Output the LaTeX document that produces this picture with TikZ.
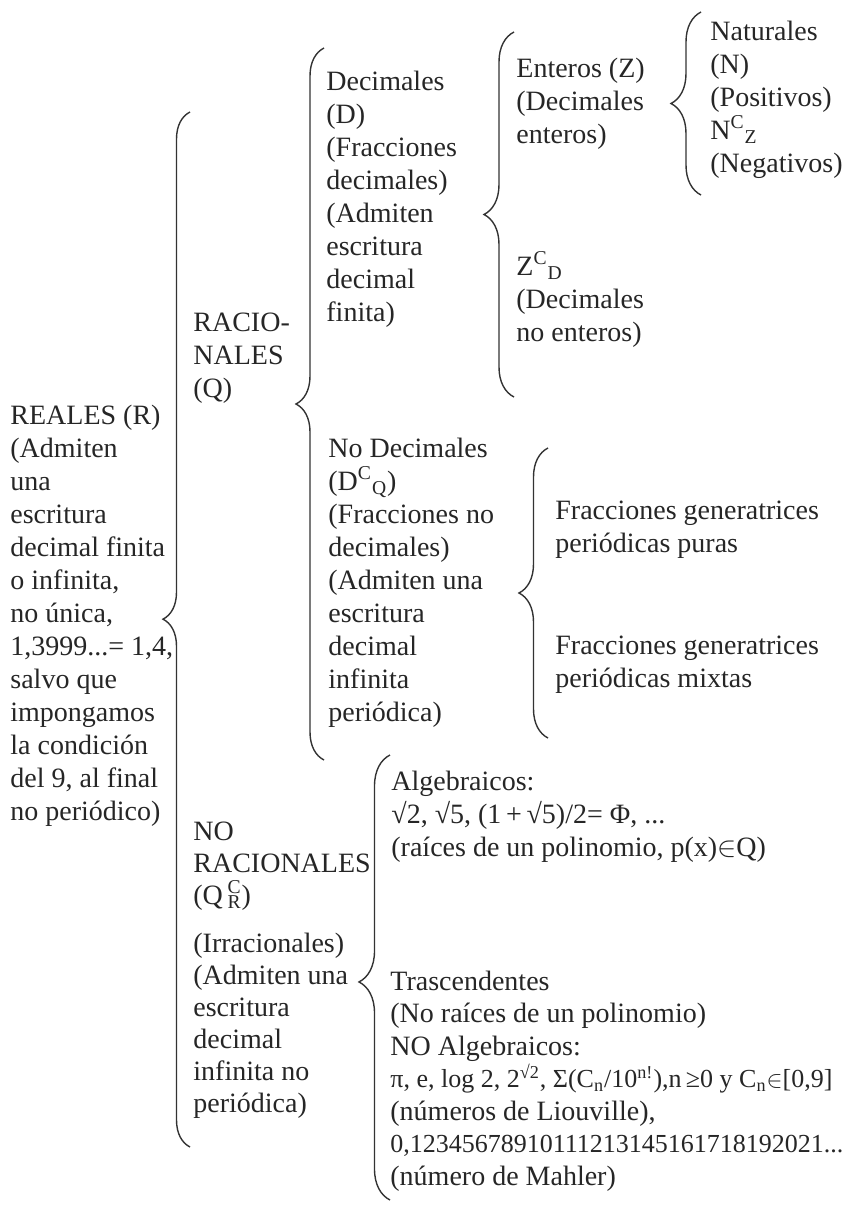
\documentclass[tikz,border=0pt]{standalone}
\usepackage{fontspec}
\setmainfont{Liberation Serif}
\usetikzlibrary{decorations.pathreplacing}

\begin{document}
\begin{tikzpicture}[
  x=0.5pt, y=-0.5pt,
  txt/.style={anchor=base west, align=left, inner sep=0pt, text=black!85,
    font=\fontsize{14}{16.5}\selectfont},
  br/.style={decorate, line width=0.7pt, draw=black!80}
]
  \useasboundingbox (0,0) rectangle (848,1205);

  % columns of text (placed at the baseline of their last line)
  \node[txt] (reales) at (10,820) {REALES (R)\\(Admiten\\una\\escritura\\decimal finita\\o infinita,\\no única,\\1,3999...= 1,4,\\salvo que\\impongamos\\la condición\\del 9, al final\\no periódico)};
  \node[txt] (racio) at (193,397) {RACIO-\\NALES\\(Q)};
  \node[txt, font=\fontsize{14}{16}\selectfont] (noracio) at (193,1112) {NO\\RACIONALES\\(Q\,\rlap{\textsuperscript{C}}\textsubscript{R})\\[8pt](Irracionales)\\(Admiten una\\escritura\\decimal\\infinita no\\periódica)};
  \node[txt] (dec) at (326,321) {Decimales\\(D)\\(Fracciones\\decimales)\\(Admiten\\escritura\\decimal\\finita)};
  \node[txt] (nodec) at (328,721) {No Decimales\\(D\textsuperscript{C}\textsubscript{Q})\\(Fracciones no\\decimales)\\(Admiten una\\escritura\\decimal\\infinita\\periódica)};
  \node[txt] (ent) at (516,143) {Enteros (Z)\\(Decimales\\enteros)};
  \node[txt] (zc) at (516,341) {Z\textsuperscript{C}\textsubscript{D}\\(Decimales\\no enteros)};
  \node[txt] (nat) at (710,172) {Naturales\\(N)\\(Positivos)\\N\textsuperscript{C}\textsubscript{Z}\\(Negativos)};
  \node[txt] (puras) at (555,552) {Fracciones generatrices\\periódicas puras};
  \node[txt] (mixtas) at (555,687) {Fracciones generatrices\\periódicas mixtas};
  \node[txt] (alg) at (391,856) {Algebraicos:\\√2, √5, (1\,+\,√5)/2= Φ, ...\\(raíces de un polinomio, p(x)$\in$Q)};
  \node[txt, font=\fontsize{14}{16.25}\selectfont] (trasc) at (390,1185) {Trascendentes\\(No raíces de un polinomio)\\NO Algebraicos:\\{\fontsize{13}{16.25}\selectfont π, e, log 2, 2\textsuperscript{√2}, Σ(C\textsubscript{n}/10\textsuperscript{n!}),n\,≥0 y C\textsubscript{n}$\in$[0,9]}\\(números de Liouville),\\{\fontsize{13}{16.25}\selectfont 0,12345678910111213145161718192021...}\\(número de Mahler)};

  % brace ends
  \coordinate (r1) at (190,1147);  \coordinate (r2) at (190,112);
  \coordinate (q1) at (324,760);   \coordinate (q2) at (324,48);
  \coordinate (d1) at (514,397);   \coordinate (d2) at (514,32);
  \coordinate (z1) at (701,195);   \coordinate (z2) at (701,12);
  \coordinate (f1) at (548,738);   \coordinate (f2) at (548,448);
  \coordinate (i1) at (390,1200);  \coordinate (i2) at (390,755);

  \draw[br, decoration={brace, amplitude=13.5pt, aspect=0.51}] (r1) -- (r2);
  \draw[br, decoration={brace, amplitude=14pt}] (q1) -- (q2);
  \draw[br, decoration={brace, amplitude=15pt}] (d1) -- (d2);
  \draw[br, decoration={brace, amplitude=15pt}] (z1) -- (z2);
  \draw[br, decoration={brace, amplitude=14.5pt}] (f1) -- (f2);
  \draw[br, decoration={brace, amplitude=15.5pt, aspect=0.49}] (i1) -- (i2);
\end{tikzpicture}
\end{document}
